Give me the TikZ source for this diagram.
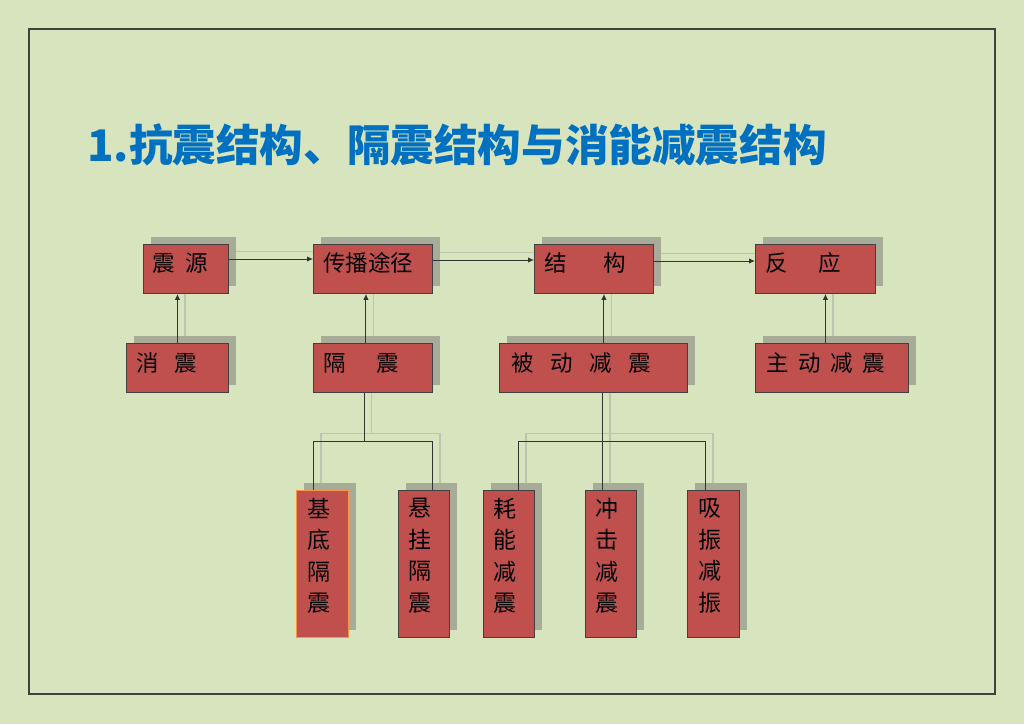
\documentclass[tikz,border=0pt]{standalone}
\usepackage{fontspec}
\newfontfamily\cjk{Noto Sans CJK SC}
\usetikzlibrary{arrows.meta}
\definecolor{bgc}{RGB}{215,228,189}
\definecolor{boxred}{RGB}{192,80,77}
\definecolor{boxline}{RGB}{64,64,64}
\definecolor{shd}{RGB}{166,172,152}
\definecolor{faintc}{RGB}{188,197,174}
\definecolor{titleblue}{RGB}{0,112,192}
\definecolor{framec}{RGB}{64,64,64}
\definecolor{orangeline}{RGB}{247,150,70}
\pgfdeclarelayer{l0}\pgfdeclarelayer{l1}\pgfdeclarelayer{l2}\pgfdeclarelayer{l3}
\pgfsetlayers{l0,l1,l2,l3,main}
\tikzset{
 box/.style={draw=boxline, fill=boxred, line width=0.9pt, inner sep=0pt, anchor=north west},
 lbl/.style={inner sep=0pt, anchor=west, font=\cjk\fontsize{22.5}{22.5}\selectfont},
 vlbl/.style={inner sep=0pt, align=center, font=\cjk\fontsize{23}{31.5}\selectfont},
 conn/.style={draw=black!80, line width=1pt},
 arr/.style={conn, -{Latex[length=6pt,width=5.5pt]}},
 shadowbox/.style={fill=shd}
}
\newcommand\allconns{%
 \draw[arr] ([yshift=-15pt]zy.north east) -- ([yshift=-15pt]cb.north west);
 \draw[arr] ([yshift=-16pt]cb.north east) -- ([yshift=-16pt]jg.north west);
 \draw[arr] ([yshift=-17pt]jg.north east) -- ([yshift=-17pt]fy.north west);
 \draw[arr] (xz.north) -- (xz.north |- zy.south);
 \draw[arr] (p2) -- (p2 |- cb.south);
 \draw[arr] (p3) -- (p3 |- jg.south);
 \draw[arr] (p4) -- (p4 |- fy.south);
 \draw[conn] (j1 |- gz.south) -- (j1);
 \draw[conn] (k1) |- (j1) -| (k2);
 \draw[conn] (j2 |- bd.south) -- (j2 |- cj.north);
 \draw[conn] (k3) |- (j2) -| (k4);
}
\begin{document}
\begin{tikzpicture}[x=1pt,y=-1pt]
\begin{pgfonlayer}{l0}
 \fill[bgc] (0,0) rectangle (1024,724);
\end{pgfonlayer}
\useasboundingbox (0,0) rectangle (1024,724);
\draw[framec, line width=1.6pt] (29,29) rectangle (995,694);
\node[anchor=west, inner sep=0pt, text=titleblue, font=\cjk\bfseries\fontsize{43.6}{44}\selectfont] (title) at (87,145) {1.抗震结构、隔震结构与消能减震结构};
% boxes
\node[box, minimum width=85pt, minimum height=49pt] (zy) at (143,244) {};
\node[box, minimum width=119pt, minimum height=49pt] (cb) at (313,244) {};
\node[box, minimum width=119pt, minimum height=49pt] (jg) at (534,244) {};
\node[box, minimum width=120pt, minimum height=49pt] (fy) at (755,244) {};
\node[box, minimum width=102pt, minimum height=49pt] (xz) at (126,343) {};
\node[box, minimum width=119pt, minimum height=49pt] (gz) at (313,343) {};
\node[box, minimum width=188pt, minimum height=49pt] (bd) at (499,343) {};
\node[box, minimum width=153pt, minimum height=49pt] (zd) at (755,343) {};
\node[box, draw=orangeline, minimum width=52pt, minimum height=147pt] (jd) at (296,490) {};
\node[box, minimum width=51pt, minimum height=147pt] (xg) at (398,490) {};
\node[box, minimum width=51pt, minimum height=147pt] (hn) at (483,490) {};
\node[box, minimum width=51pt, minimum height=147pt] (cj) at (585,490) {};
\node[box, minimum width=52pt, minimum height=147pt] (xzz) at (687,490) {};
% labels
\node[lbl] (t1) at (152,263) {震\hspace{10.5pt}源};
\node[lbl] (t2) at (323,263) {传播途径};
\node[lbl] (t3) at (544,263) {结\hspace{36.5pt}构};
\node[lbl] (t4) at (765,263) {反\hspace{30.5pt}应};
\node[lbl] (t5) at (136,363) {消\hspace{15.5pt}震};
\node[lbl] (t6) at (323,363) {隔\hspace{30.5pt}震};
\node[lbl] (t7) at (511,363) {被\hspace{16.5pt}动\hspace{16.5pt}减\hspace{16.5pt}震};
\node[lbl] (t8) at (766,363) {主\hspace{9.5pt}动\hspace{9.5pt}减\hspace{9.5pt}震};
\node[vlbl] (t9) at (318.5,556) {基\\底\\隔\\震};
\node[vlbl] (t10) at (420,556) {悬\\挂\\隔\\震};
\node[vlbl] (t11) at (505,556) {耗\\能\\减\\震};
\node[vlbl] (t12) at (607,556) {冲\\击\\减\\震};
\node[vlbl] (t13) at (709.5,556) {吸\\振\\减\\振};
% helper coordinates
\coordinate (p2) at ([xshift=-7pt]gz.north);
\coordinate (p3) at ([xshift=10.5pt]bd.north);
\coordinate (p4) at ([xshift=-6.5pt]zd.north);
\coordinate (j1) at (364,441);
\coordinate (j2) at (602.5,441);
\coordinate (k1) at ([xshift=-9pt]jd.north);
\coordinate (k2) at ([xshift=8.5pt]xg.north);
\coordinate (k3) at ([xshift=9.5pt]hn.north);
\coordinate (k4) at ([xshift=-8pt]xzz.north);
% box shadows
\begin{pgfonlayer}{l2}
 \foreach \n in {zy,cb,jg,fy,xz,gz,bd,zd,jd,xg,hn,cj,xzz}
  \fill[shadowbox] ([shift={(7.5pt,7.5pt)}]\n.south west) rectangle ([shift={(7.5pt,7.5pt)}]\n.north east);
\end{pgfonlayer}
% faint connector shadows
\begin{pgfonlayer}{l1}
 \begin{scope}[transform canvas={shift={(7.5pt,7.5pt)}}]
  \tikzset{conn/.style={draw=faintc, line width=1.3pt}, arr/.style={conn}}
  \allconns
 \end{scope}
\end{pgfonlayer}
% connectors
\begin{pgfonlayer}{l3}
 \allconns
\end{pgfonlayer}
\end{tikzpicture}
\end{document}
